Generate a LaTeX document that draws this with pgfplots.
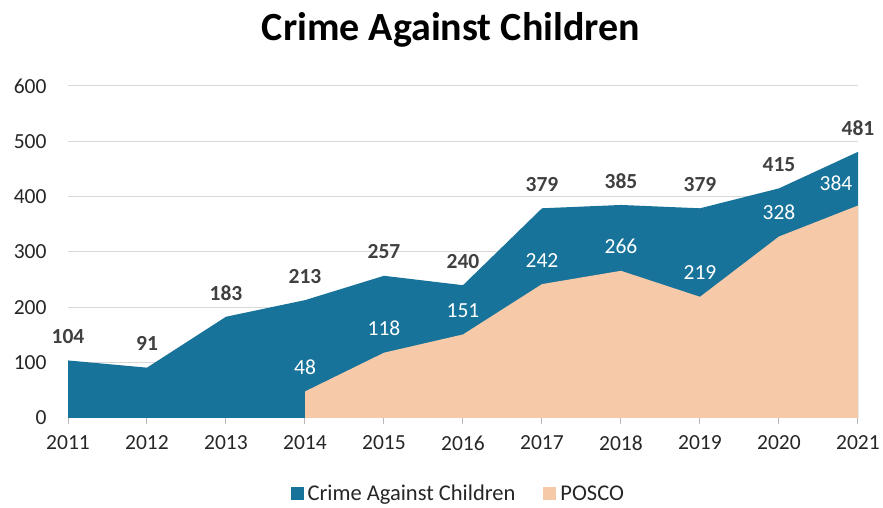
\documentclass[border=0pt]{standalone}
\usepackage{pgfplots}
\pgfplotsset{compat=1.18}
\usepackage{fontspec}
\setmainfont{Carlito}
\definecolor{cac}{HTML}{17739A}
\definecolor{pos}{HTML}{F6C9A9}
\definecolor{lab}{HTML}{404040}
\definecolor{tick}{HTML}{262626}
\begin{document}
\begin{tikzpicture}[x=1pt,y=1pt]
\useasboundingbox (-68,-90) rectangle (815,418);
\begin{axis}[
  scale only axis, width=790pt, height=332pt,
  at={(0,0)}, anchor=south west,
  xmin=2011, xmax=2021, ymin=0, ymax=600,
  xtick={2011,2012,...,2021}, ytick={0,100,...,600},
  /pgf/number format/1000 sep=,
  /pgf/number format/assume math mode=true,
  separate axis lines,
  axis x line*=bottom, axis y line*=left,
  y axis line style={draw=none},
  x axis line style={draw=black!28, line width=1pt},
  ytick style={draw=none},
  xtick style={draw=black!28, line width=1pt},
  tick align=outside, major tick length=6pt,
  ymajorgrids, grid style={draw=black!15, line width=1pt},
  ticklabel style={font=\fontsize{21.5}{24}\selectfont, text=tick},
  xticklabel style={yshift=-8pt},
  yticklabel style={xshift=-12pt},
  clip=false,
  legend columns=2,
  legend style={draw=none, at={(0.494,-0.228)}, anchor=center,
    font=\fontsize{22.5}{25}\selectfont, text=tick,
    /tikz/every even column/.append style={column sep=26pt},
    /tikz/every odd column/.append style={column sep=2pt}},
  legend image code/.code={\fill[#1] (0pt,-6.5pt) rectangle (13pt,6.5pt);},
]
\addplot[fill=cac, draw=none] coordinates {
(2011,104) (2012,91) (2013,183) (2014,213) (2015,257) (2016,240)
(2017,379) (2018,385) (2019,379) (2020,415) (2021,481)} \closedcycle;
\addlegendentry{Crime Against Children}
\addplot[fill=pos, draw=none] coordinates {
(2014,48) (2015,118) (2016,151) (2017,242) (2018,266) (2019,219)
(2020,328) (2021,384)} \closedcycle;
\addlegendentry{POSCO}
% labels
\addplot[forget plot, draw=none, mark=none, nodes near coords,
  every node near coord/.style={anchor=center, yshift=24pt,
    font=\fontsize{21.5}{24}\selectfont\bfseries, text=lab}]
 coordinates {
(2011,104) (2012,91) (2013,183) (2014,213) (2015,257) (2016,240)
(2017,379) (2018,385) (2019,379) (2020,415) (2021,481)};
\addplot[forget plot, draw=none, mark=none, nodes near coords,
  every node near coord/.style={anchor=center, yshift=24pt,
    font=\fontsize{21.5}{24}\selectfont, text=white}]
 coordinates {
(2014,48) (2015,118) (2016,151) (2017,242) (2018,266) (2019,219)
(2020,328)};
\addplot[forget plot, draw=none, mark=none, nodes near coords,
  every node near coord/.style={anchor=center, yshift=22pt, xshift=-22pt,
    font=\fontsize{21.5}{24}\selectfont, text=white}]
 coordinates {(2021,384)};
\end{axis}
\node[font=\fontsize{40}{44}\selectfont\bfseries, text=black] at (383,388) {Crime Against Children};
\end{tikzpicture}
\end{document}
